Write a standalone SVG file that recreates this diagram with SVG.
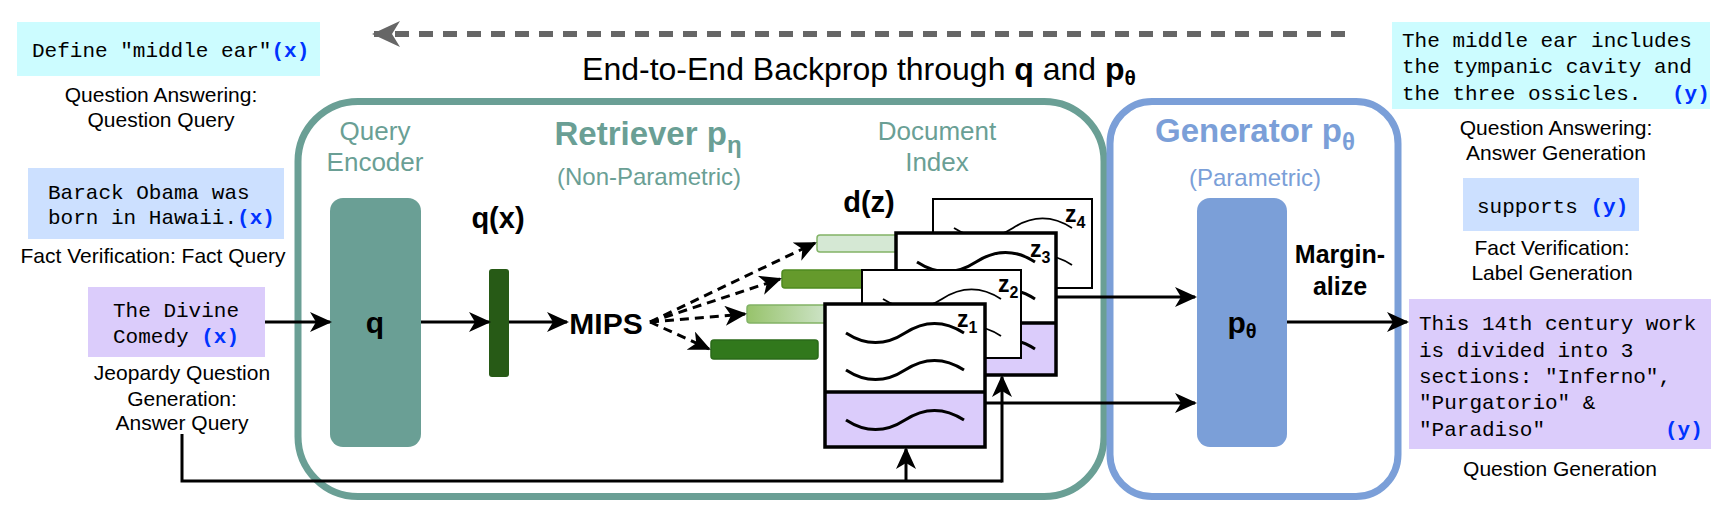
<svg xmlns="http://www.w3.org/2000/svg" width="1728" height="514" viewBox="0 0 1728 514">
<defs>
<style>
.lbl{font-family:"Liberation Sans",Arial,sans-serif;font-size:21px;fill:#000}
.title{font-family:"Liberation Sans",Arial,sans-serif;font-size:32px;fill:#000}
.mono{font-family:"Liberation Mono","Courier New",monospace;font-size:21px;fill:#000}
.var{font-weight:bold;fill:#0033ff}
.bold{font-family:"Liberation Sans",Arial,sans-serif;font-weight:bold;fill:#000}
.tealtxt{font-family:"Liberation Sans",Arial,sans-serif;fill:#6A9F95}
.bluetxt{font-family:"Liberation Sans",Arial,sans-serif;fill:#7B9FD8}
.ln{fill:none;stroke:#000;stroke-width:3}
.dash{fill:none;stroke:#000;stroke-width:3;stroke-dasharray:9 6}
.wave{fill:none;stroke:#000;stroke-width:3}
.wthin{fill:none;stroke:#000;stroke-width:1.8}
.purple{fill:#DBCCFB}
.zl{font-family:"Liberation Sans",Arial,sans-serif;font-weight:bold;font-size:23px;fill:#000}
</style>
<marker id="ah" viewBox="0 0 22 20" markerWidth="22" markerHeight="20" refX="20" refY="10" orient="auto" markerUnits="userSpaceOnUse"><path d="M0,0 L22,10 L0,20 L6,10 z" fill="#000"/></marker>
<marker id="ahg" viewBox="0 0 28 26" markerWidth="28" markerHeight="26" refX="26" refY="13" orient="auto" markerUnits="userSpaceOnUse"><path d="M0,0 L28,13 L0,26 L8,13 z" fill="#666"/></marker>
<linearGradient id="lg" x1="0" x2="1" y1="0" y2="0"><stop offset="0" stop-color="#97C36B"/><stop offset="1" stop-color="#D5E8D4"/></linearGradient>
</defs>
<rect width="1728" height="514" fill="#fff"/>

<g id="retriever">
<rect x="298" y="101.5" width="806" height="395" rx="60" ry="60" fill="none" stroke="#6A9F95" stroke-width="7"/>
<text class="tealtxt" x="375" y="140" font-size="26" text-anchor="middle">Query</text>
<text class="tealtxt" x="375" y="171" font-size="26" text-anchor="middle">Encoder</text>
<text class="tealtxt" x="648" y="145" font-size="33" font-weight="bold" text-anchor="middle">Retriever p<tspan font-size="24" dy="8">η</tspan></text>
<text class="tealtxt" x="649" y="185" font-size="24" text-anchor="middle">(Non-Parametric)</text>
<text class="tealtxt" x="937" y="140" font-size="26" text-anchor="middle">Document</text>
<text class="tealtxt" x="937" y="171" font-size="26" text-anchor="middle">Index</text>
</g>
<g id="generator">
<rect x="1110" y="101.5" width="288" height="395" rx="42" ry="42" fill="none" stroke="#7B9FD8" stroke-width="7"/>
<text class="bluetxt" x="1255" y="142" font-size="33" font-weight="bold" text-anchor="middle">Generator p<tspan font-size="24" dy="8">θ</tspan></text>
<text class="bluetxt" x="1255" y="186" font-size="24" text-anchor="middle">(Parametric)</text>
</g>

<g id="backprop">
<line x1="1345" y1="34" x2="374" y2="34" stroke="#666" stroke-width="6" stroke-dasharray="14 10"/>
<line x1="380" y1="34" x2="374" y2="34" stroke="#666" stroke-width="6" marker-end="url(#ahg)"/>
<text class="title" x="859" y="80" text-anchor="middle">End-to-End Backprop through <tspan font-weight="bold">q</tspan> and <tspan font-weight="bold">p</tspan><tspan font-weight="bold" font-size="21" dy="5">θ</tspan></text>
</g>

<g id="input-qa">
<rect x="17" y="22" width="303" height="54" fill="#CCFCFF"/>
<text class="mono" x="32" y="57">Define "middle ear"<tspan class="var">(x)</tspan></text>
<text class="lbl" x="161" y="102" text-anchor="middle">Question Answering:</text>
<text class="lbl" x="161" y="127" text-anchor="middle">Question Query</text>
</g>
<g id="input-fv">
<rect x="28" y="168" width="256" height="71" fill="#CCE0FF"/>
<text class="mono" x="48" y="199">Barack Obama was</text>
<text class="mono" x="48" y="224">born in Hawaii.<tspan class="var">(x)</tspan></text>
<text class="lbl" x="153" y="263" text-anchor="middle">Fact Verification: Fact Query</text>
</g>
<g id="input-jeopardy">
<rect x="88" y="287" width="177" height="70" fill="#DBCCFB"/>
<text class="mono" x="113" y="317">The Divine</text>
<text class="mono" x="113" y="343">Comedy <tspan class="var">(x)</tspan></text>
<text class="lbl" x="182" y="380" text-anchor="middle">Jeopardy Question</text>
<text class="lbl" x="182" y="406" text-anchor="middle">Generation:</text>
<text class="lbl" x="182" y="430" text-anchor="middle">Answer Query</text>
</g>

<g id="query-encoder">
<rect x="330" y="198" width="91" height="249" rx="13" fill="#6A9F95"/>
<text class="bold" x="375" y="333" font-size="30" text-anchor="middle">q</text>
</g>
<g id="qx">
<text class="bold" x="498" y="228" font-size="29" text-anchor="middle">q(x)</text>
<rect x="489" y="269" width="20" height="108" rx="3" fill="#275A16"/>
</g>
<g id="mips">
<text class="bold" x="606" y="334" font-size="30" text-anchor="middle">MIPS</text>
</g>

<g id="vectors">
<rect x="817" y="235" width="90" height="17" rx="3" fill="#D5E8D4" stroke="#82B366" stroke-width="1.5"/>
<rect x="782" y="270" width="90" height="18" rx="3" fill="#659A2C" stroke="#4F8A1F" stroke-width="1.5"/>
<rect x="747" y="305" width="90" height="18" rx="3" fill="url(#lg)" stroke="#82B366" stroke-width="1.5"/>
<rect x="711" y="340" width="107" height="19" rx="3" fill="#31781C" stroke="#2A6A18" stroke-width="1.5"/>
<text class="bold" x="869" y="212" font-size="29" text-anchor="middle">d(z)</text>
</g>

<g id="doc-z4">
<rect x="933" y="199" width="159" height="89" fill="#fff" stroke="#000" stroke-width="2"/>
<path class="wthin" d="M954,228 c20,13 39,13 59,0 c20,-13 39,-13 59,0"/>
<path class="wthin" d="M954,265 c20,13 39,13 59,0 c20,-13 39,-13 59,0"/>
<text class="zl" x="1065" y="222">z<tspan font-size="16" dy="6">4</tspan></text>
</g>
<g id="doc-z3">
<rect x="896" y="233" width="160" height="90" fill="#fff"/>
<rect class="purple" x="896" y="323" width="160" height="52"/>
<rect x="896" y="233" width="160" height="142" fill="none" stroke="#000" stroke-width="3.5"/>
<line x1="896" y1="323" x2="1056" y2="323" stroke="#000" stroke-width="3.5"/>
<path class="wave" d="M917,262 c20,13 39,13 59,0 c20,-13 39,-13 59,0"/>
<path class="wave" d="M917,299 c20,13 39,13 59,0 c20,-13 39,-13 59,0"/>
<path class="wave" d="M917,349 c20,13 39,13 59,0 c20,-13 39,-13 59,0"/>
<text class="zl" x="1030" y="257">z<tspan font-size="16" dy="6">3</tspan></text>
</g>
<g id="doc-z2">
<rect x="862" y="270" width="159" height="88" fill="#fff" stroke="#000" stroke-width="2"/>
<path class="wthin" d="M883,299 c20,13 39,13 59,0 c20,-13 39,-13 59,0"/>
<path class="wthin" d="M883,336 c20,13 39,13 59,0 c20,-13 39,-13 59,0"/>
<text class="zl" x="998" y="292">z<tspan font-size="16" dy="6">2</tspan></text>
</g>
<g id="doc-z1">
<rect x="825" y="304" width="160" height="88" fill="#fff"/>
<rect class="purple" x="825" y="392" width="160" height="55"/>
<rect x="825" y="304" width="160" height="143" fill="none" stroke="#000" stroke-width="3.5"/>
<line x1="825" y1="392" x2="985" y2="392" stroke="#000" stroke-width="3.5"/>
<path class="wave" d="M846,333 c20,13 39,13 59,0 c20,-13 39,-13 59,0"/>
<path class="wave" d="M846,370 c20,13 39,13 59,0 c20,-13 39,-13 59,0"/>
<path class="wave" d="M846,420 c20,13 39,13 59,0 c20,-13 39,-13 59,0"/>
<text class="zl" x="957" y="327">z<tspan font-size="16" dy="6">1</tspan></text>
</g>

<g id="p-theta">
<rect x="1197" y="198" width="90" height="249" rx="13" fill="#7B9FD8"/>
<text class="bold" x="1242" y="333" font-size="30" text-anchor="middle">p<tspan font-size="20" dy="5">θ</tspan></text>
</g>
<g id="marginalize">
<text class="bold" x="1340" y="263" font-size="25" text-anchor="middle">Margin-</text>
<text class="bold" x="1340" y="295" font-size="25" text-anchor="middle">alize</text>
</g>

<g id="output-qa">
<rect x="1392" y="22" width="318" height="87" fill="#CCFCFF"/>
<text class="mono" x="1402" y="47">The middle ear includes</text>
<text class="mono" x="1402" y="73">the tympanic cavity and</text>
<text class="mono" x="1402" y="100">the three ossicles.<tspan class="var" x="1672">(y)</tspan></text>
<text class="lbl" x="1556" y="135" text-anchor="middle">Question Answering:</text>
<text class="lbl" x="1556" y="160" text-anchor="middle">Answer Generation</text>
</g>
<g id="output-fv">
<rect x="1463" y="178" width="176" height="53" fill="#CCE0FF"/>
<text class="mono" x="1477" y="213">supports <tspan class="var">(y)</tspan></text>
<text class="lbl" x="1552" y="255" text-anchor="middle">Fact Verification:</text>
<text class="lbl" x="1552" y="280" text-anchor="middle">Label Generation</text>
</g>
<g id="output-jeopardy">
<rect x="1409" y="299" width="302" height="150" fill="#DBCCFB"/>
<text class="mono" x="1419" y="330">This 14th century work</text>
<text class="mono" x="1419" y="357">is divided into 3</text>
<text class="mono" x="1419" y="383">sections: "Inferno",</text>
<text class="mono" x="1419" y="409">"Purgatorio" &amp;</text>
<text class="mono" x="1419" y="436">"Paradiso"<tspan class="var" x="1665">(y)</tspan></text>
<text class="lbl" x="1560" y="476" text-anchor="middle">Question Generation</text>
</g>

<g id="connectors">
<line class="ln" x1="265" y1="322" x2="330" y2="322" marker-end="url(#ah)"/>
<line class="ln" x1="421" y1="322" x2="489" y2="322" marker-end="url(#ah)"/>
<line class="ln" x1="509" y1="322" x2="567" y2="322" marker-end="url(#ah)"/>
<line class="dash" x1="650" y1="322" x2="815" y2="243" marker-end="url(#ah)"/>
<line class="dash" x1="650" y1="322" x2="780" y2="279" marker-end="url(#ah)"/>
<line class="dash" x1="650" y1="322" x2="745" y2="314" marker-end="url(#ah)"/>
<line class="dash" x1="650" y1="322" x2="709" y2="349" marker-end="url(#ah)"/>
<line class="ln" x1="1056" y1="297" x2="1195" y2="297" marker-end="url(#ah)"/>
<line class="ln" x1="985" y1="403" x2="1195" y2="403" marker-end="url(#ah)"/>
<line class="ln" x1="1287" y1="322" x2="1407" y2="322" marker-end="url(#ah)"/>
<polyline class="ln" points="182,434 182,481 1002,481"/>
<line class="ln" x1="1002" y1="482.5" x2="1002" y2="377" marker-end="url(#ah)"/>
<line class="ln" x1="906" y1="481" x2="906" y2="449" marker-end="url(#ah)"/>
</g>
</svg>
